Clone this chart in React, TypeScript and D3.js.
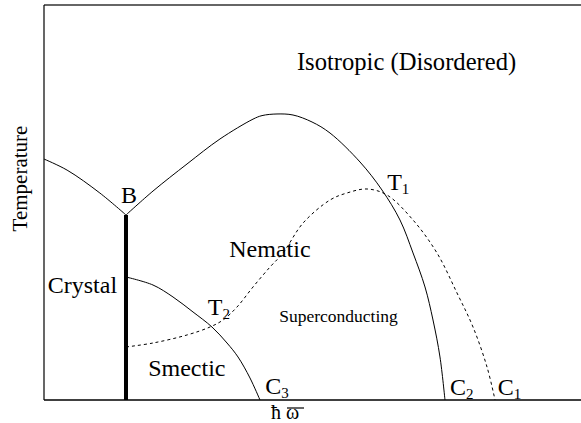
import React from 'react';
import * as d3 from 'd3';

// phase boundaries, in arbitrary units (hbar-omega 0..100, temperature 0..100)
const CRYSTAL_EDGE = [
  { x: 0, y: 61.0 }, { x: 4.3, y: 58.2 }, { x: 10.4, y: 52.4 }, { x: 15.27, y: 46.84 },
];
const NEMATIC_EDGE = [
  { x: 15.27, y: 46.84 }, { x: 20.3, y: 52.9 }, { x: 26.63, y: 59.75 }, { x: 32.77, y: 66.08 },
  { x: 38.92, y: 71.1 }, { x: 40.6, y: 72.0 }, { x: 43.39, y: 72.41 }, { x: 46.37, y: 72.15 },
  { x: 49.91, y: 70.38 }, { x: 53.26, y: 67.59 }, { x: 58.85, y: 60.25 }, { x: 62.94, y: 53.16 },
  { x: 66.29, y: 45.57 }, { x: 68.72, y: 37.22 }, { x: 70.95, y: 28.61 }, { x: 72.44, y: 20.25 },
  { x: 73.74, y: 10.89 }, { x: 74.67, y: 0 },
];
const SC_EDGE = [
  { x: 15.27, y: 13.42 }, { x: 20.3, y: 14.43 }, { x: 26.63, y: 16.46 }, { x: 30.91, y: 18.48 },
  { x: 33.33, y: 20.25 }, { x: 35.94, y: 23.54 }, { x: 38.92, y: 28.61 }, { x: 42.09, y: 33.67 },
  { x: 44.51, y: 37.22 }, { x: 48.25, y: 44.81 }, { x: 53.26, y: 50.63 }, { x: 56.42, y: 52.41 },
  { x: 60.15, y: 53.42 }, { x: 63.87, y: 51.9 }, { x: 68.72, y: 45.57 }, { x: 73.18, y: 37.22 },
  { x: 76.91, y: 27.09 }, { x: 79.89, y: 18.48 }, { x: 82.5, y: 8.35 }, { x: 83.99, y: 0 },
];
const SMECTIC_EDGE = [
  { x: 15.27, y: 31.14 }, { x: 20.3, y: 29.11 }, { x: 24.02, y: 26.08 }, { x: 27.75, y: 22.28 },
  { x: 31.28, y: 18.48 }, { x: 34.08, y: 14.43 }, { x: 36.13, y: 10.89 }, { x: 38.36, y: 5.57 },
  { x: 40.22, y: 0 },
];
const B_POINT = { x: 15.27, y: 46.84 };

const REGION_LABELS = [
  { text: 'Isotropic (Disordered)', x: 47.1, y: 83.5, size: 24.6 },
  { text: 'Crystal', x: 0.7, y: 27.1, size: 24 },
  { text: 'Nematic', x: 34.5, y: 36.2, size: 24 },
  { text: 'Smectic', x: 19.4, y: 6.1, size: 24 },
  { text: 'Superconducting', x: 43.8, y: 19.7, size: 17.5 },
];
const POINT_LABELS = [
  { main: 'T', sub: '1', x: 63.9, y: 53.2 },
  { main: 'T', sub: '2', x: 30.5, y: 21.5 },
  { main: 'C', sub: '3', x: 41.2, y: 1.5 },
  { main: 'C', sub: '2', x: 75.6, y: 1.3 },
  { main: 'C', sub: '1', x: 84.5, y: 1.3 },
];

const W = 581, H = 423;
const m = { t: 5, r: 0, b: 23, l: 44 };
const FONT = '"Liberation Serif", "Times New Roman", Times, serif';

export default function App() {
  const x = d3.scaleLinear().domain([0, 100]).range([m.l, W - m.r]);
  const y = d3.scaleLinear().domain([0, 100]).range([H - m.b, m.t]);
  const line = d3.line<{ x: number; y: number }>()
    .x(d => x(d.x)).y(d => y(d.y))
    .curve(d3.curveCatmullRom.alpha(0.5));

  const xl = { x: 271, y: 419 };

  return (
    <svg width={W} height={H} style={{ position: 'absolute', left: 0, top: 0, background: '#fff', fontFamily: FONT }}>
      {/* frame: top, left, bottom */}
      <line x1={x(0)} x2={W} y1={y(100)} y2={y(100)} stroke="#333" strokeWidth={1.6} />
      <line x1={x(0)} x2={x(0)} y1={y(100)} y2={y(0)} stroke="#000" strokeWidth={1.2} />
      <line x1={x(0)} x2={W} y1={y(0)} y2={y(0)} stroke="#000" strokeWidth={1.5} />

      <path d={line(CRYSTAL_EDGE) || ''} fill="none" stroke="#000" strokeWidth={1} />
      <path d={line(NEMATIC_EDGE) || ''} fill="none" stroke="#000" strokeWidth={1} />
      <path d={line(SMECTIC_EDGE) || ''} fill="none" stroke="#000" strokeWidth={1} />
      <path d={line(SC_EDGE) || ''} fill="none" stroke="#000" strokeWidth={1} strokeDasharray="3,3" />
      <line x1={x(B_POINT.x)} x2={x(B_POINT.x)} y1={y(B_POINT.y)} y2={y(0)} stroke="#000" strokeWidth={4} />

      <text x={x(B_POINT.x) + 3} y={y(B_POINT.y) - 12} fontSize={24} textAnchor="middle">B</text>

      {REGION_LABELS.map(l => (
        <text key={l.text} x={x(l.x)} y={y(l.y)} fontSize={l.size}>{l.text}</text>
      ))}
      {POINT_LABELS.map(l => (
        <text key={l.main + l.sub} x={x(l.x)} y={y(l.y)} fontSize={24}>
          {l.main}<tspan fontSize={15} dy={4}>{l.sub}</tspan>
        </text>
      ))}

      <text transform={`translate(27,${(y(0) + y(100)) / 2 - 24}) rotate(-90)`} textAnchor="middle" fontSize={21}>
        Temperature
      </text>
      <text x={xl.x} y={xl.y} fontSize={20}>ħ ω</text>
      <line x1={xl.x + 16} x2={xl.x + 33} y1={xl.y - 11} y2={xl.y - 11} stroke="#000" strokeWidth={1.2} />
    </svg>
  );
}
